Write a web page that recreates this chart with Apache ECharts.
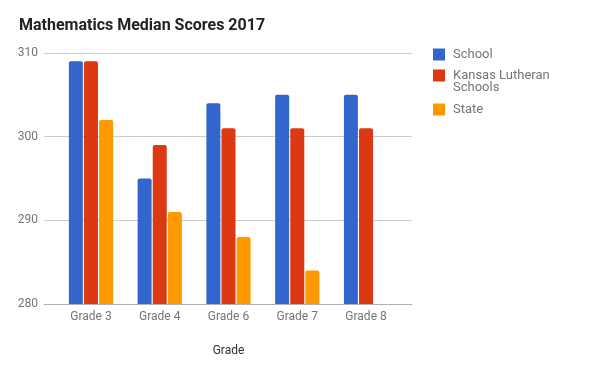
<!DOCTYPE html>
<html>
<head>
<meta charset="utf-8">
<script src="https://cdn.jsdelivr.net/npm/echarts@6/dist/echarts.min.js"></script>
<style>html,body{margin:0;padding:0;background:#fff}#c{width:600px;height:371px}</style>
</head>
<body>
<div id="c"></div>
<script>
var categories = ['Grade 3', 'Grade 4', 'Grade 6', 'Grade 7', 'Grade 8'];
var schoolValues = [309, 295, 304, 305, 305];
var klsValues = [309, 299, 301, 301, 301];
var stateValues = [302, 291, 288, 284, null];
var yTicks = [280, 290, 300, 310];

var chart = echarts.init(document.getElementById('c'), null, {renderer: 'canvas'});
var font = 'Roboto';
var legendText = {color: '#757575', fontFamily: font, fontSize: 13, lineHeight: 12, padding: [0, 0, 0, 3]};
chart.setOption({
  animation: false,
  title: {
    text: 'Mathematics Median Scores 2017',
    left: 14, top: 13,
    textStyle: {fontFamily: font, fontSize: 16, fontWeight: 'bold', color: '#222'}
  },
  legend: [
    {data: ['School'], orient: 'vertical', left: 433, top: 48, padding: 0, itemWidth: 12, itemHeight: 12,
     itemGap: 0, icon: 'rect', textStyle: legendText},
    {data: ['Kansas Lutheran Schools'], orient: 'vertical', left: 433, top: 57, padding: 0,
     itemWidth: 12, itemHeight: 12, icon: 'rect',
     formatter: function () { return ' \nKansas Lutheran\nSchools'; },
     textStyle: legendText},
    {data: ['State'], orient: 'vertical', left: 433, top: 103, padding: 0, itemWidth: 12, itemHeight: 12,
     icon: 'rect', textStyle: legendText}
  ],
  grid: [
    {left: 56.6, right: 199.6, top: 53, bottom: 67},
    {left: 44, right: 188, top: 53, bottom: 67}
  ],
  xAxis: [
    {type: 'category', gridIndex: 0, data: categories,
     axisLine: {show: false}, axisTick: {show: false},
     axisLabel: {color: '#757575', fontFamily: font, fontSize: 12, margin: 7},
     name: 'Grade', nameLocation: 'middle', nameGap: 41,
     nameTextStyle: {color: '#333', fontFamily: font, fontSize: 12}},
    {type: 'value', gridIndex: 1, min: 0, max: 1, show: true,
     axisLine: {show: true, lineStyle: {color: '#b0b0b0', width: 1}},
     axisTick: {show: false}, axisLabel: {show: false}, splitLine: {show: false}}
  ],
  yAxis: [
    {type: 'value', gridIndex: 0, min: 280, max: 310, interval: 10, show: false},
    {type: 'value', gridIndex: 1, min: 280, max: 310, interval: 10,
     axisLine: {show: false}, axisTick: {show: false},
     axisLabel: {color: '#757575', fontFamily: font, fontSize: 12, margin: 6,
       formatter: function (v) { return yTicks.indexOf(v) >= 0 ? String(v) : ''; }},
     splitLine: {lineStyle: {color: '#cccccc', width: 1}}}
  ],
  series: [
    {name: 'School', type: 'bar', xAxisIndex: 0, yAxisIndex: 0, data: schoolValues,
     barWidth: 14, barGap: '8%', itemStyle: {color: '#3366cc', borderRadius: [2, 2, 0, 0]}},
    {name: 'Kansas Lutheran Schools', type: 'bar', xAxisIndex: 0, yAxisIndex: 0, data: klsValues,
     barWidth: 14, barGap: '8%', itemStyle: {color: '#dc3912', borderRadius: [2, 2, 0, 0]}},
    {name: 'State', type: 'bar', xAxisIndex: 0, yAxisIndex: 0, data: stateValues,
     barWidth: 14, barGap: '8%', itemStyle: {color: '#ff9900', borderRadius: [2, 2, 0, 0]}}
  ]
});
</script>
</body>
</html>
